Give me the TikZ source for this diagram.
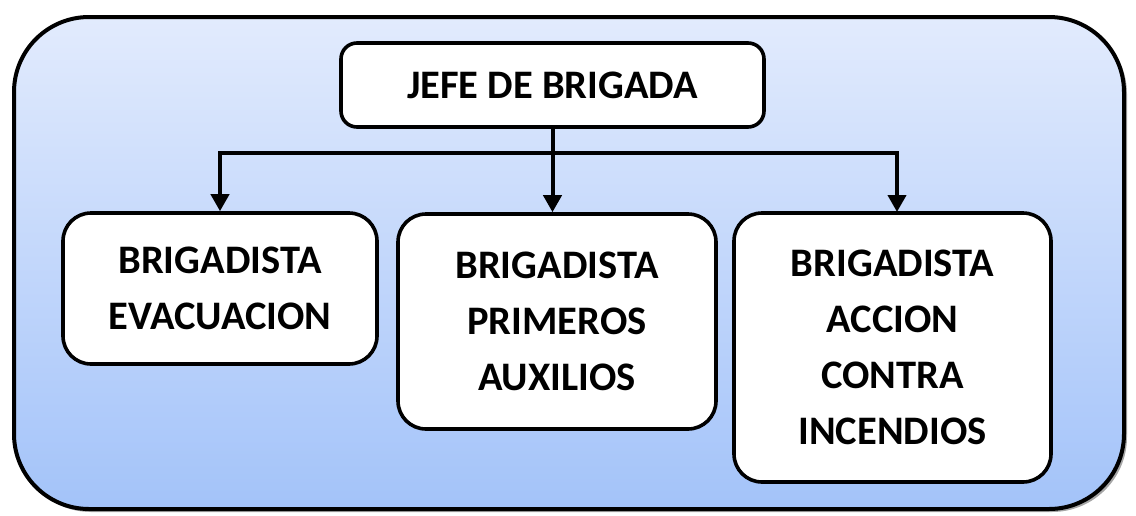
\documentclass[tikz,border=0pt]{standalone}
\usepackage{fontspec}
\setmainfont{Carlito}
\usetikzlibrary{arrows.meta,calc}
\definecolor{bgtop}{RGB}{226,235,253}
\definecolor{bgbot}{RGB}{163,195,249}
\tikzset{
  box/.style={draw=black, line width=3.6pt, fill=white, rounded corners=28pt,
    align=center, font=\bfseries\fontsize{40.5}{56}\selectfont, inner sep=0pt},
  conn/.style={line width=4pt},
  arr/.style={line width=4pt, -{Triangle[length=17pt,width=18pt]}},
}
\begin{document}
\begin{tikzpicture}[x=1pt,y=-1pt]
\useasboundingbox (0,0) rectangle (1136,515);
% outer panel shadow and body
\fill[black!35, rounded corners=75pt] (16,19) rectangle (1127,512);
\shade[top color=bgtop, bottom color=bgbot, rounded corners=75pt, draw=black, line width=4pt]
  (14,17) rectangle (1124,509);
% boxes
\node[box, rounded corners=16pt, minimum width=423pt, minimum height=84pt] (jefe) at (552.5,85) {JEFE DE BRIGADA};
\node[box, minimum width=314pt, minimum height=151pt] (b1) at (220,288.5) {BRIGADISTA\\EVACUACION};
\node[box, minimum width=318pt, minimum height=215pt] (b2) at (557,321.5) {BRIGADISTA\\PRIMEROS\\AUXILIOS};
\node[box, minimum width=317pt, minimum height=269pt] (b3) at (892.5,347.5) {BRIGADISTA\\ACCION\\CONTRA\\INCENDIOS};
% connectors
\coordinate (busL) at (220,153);
\coordinate (busR) at (897,153);
\coordinate (t3) at (897,212);
\draw[conn] (jefe.south) -- (jefe.south |- busL);
\draw[conn, line cap=rect] (busL) -- (busR);
\draw[arr] (busL) -- (b1.north);
\draw[arr] (jefe.south |- busL) -- (b2.north -| jefe.south);
\draw[arr] (busR) -- (t3);
\end{tikzpicture}
\end{document}
